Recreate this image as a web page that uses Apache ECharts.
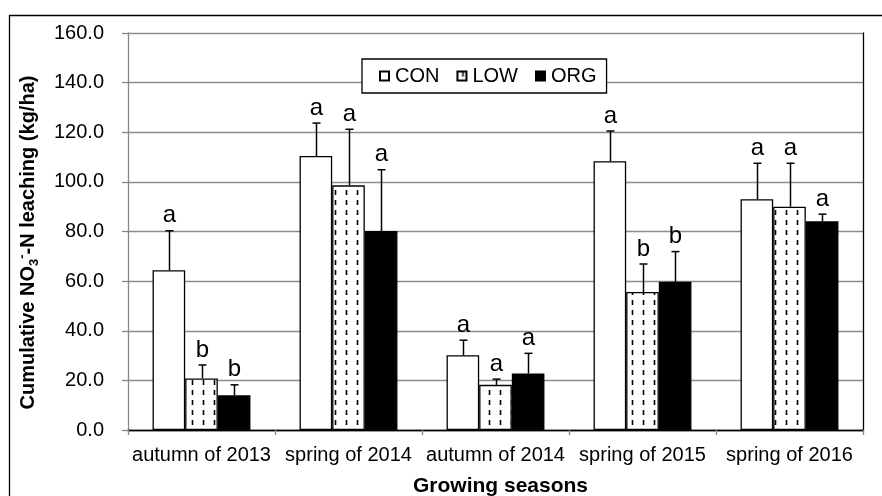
<!DOCTYPE html>
<html>
<head>
<meta charset="utf-8">
<script src="https://cdn.jsdelivr.net/npm/echarts@6/dist/echarts.min.js"></script>
<style>
  html, body { margin: 0; padding: 0; background: #fff; }
  #main { width: 882px; height: 496px; }
</style>
</head>
<body>
<div id="main"></div>
<script>
var seasons = ['autumn of 2013', 'spring of 2014', 'autumn of 2014', 'spring of 2015', 'spring of 2016'];
var yTicks = [0, 20, 40, 60, 80, 100, 120, 140, 160];

var conVal = [64.4, 110.4, 30.1, 108.3, 93.0];
var conErr = [15.9, 13.3, 6.1, 12.2, 14.5];
var conLetter = ['a', 'a', 'a', 'a', 'a'];

var lowVal = [20.8, 98.6, 18.2, 55.6, 90.0];
var lowErr = [5.4, 22.6, 2.3, 11.3, 17.5];
var lowLetter = ['b', 'a', 'a', 'b', 'a'];

var orgVal = [14.0, 80.2, 22.8, 59.7, 84.1];
var orgErr = [4.2, 24.7, 8.1, 12.2, 2.9];
var orgLetter = ['b', 'a', 'a', 'b', 'a'];

var FONT = 'Liberation Sans';
var CAT_GAP = 0.334; // share of each category left empty

// vertical dashed pattern for LOW
function dashPattern() {
	var c = document.createElement('canvas');
	c.width = 11;
	c.height = 10;
	var ctx = c.getContext('2d');
	ctx.fillStyle = '#fff';
	ctx.fillRect(0, 0, 11, 10);
	ctx.strokeStyle = '#000';
	ctx.lineWidth = 1.6;
	ctx.beginPath();
	ctx.moveTo(5.5, 0);
	ctx.lineTo(5.5, 5);
	ctx.stroke();
	return c;
}

function barSeries(name, vals, fill) {
	return {
		name: name,
		type: 'bar',
		barGap: '0%',
		barCategoryGap: (CAT_GAP * 100) + '%',
		itemStyle: { color: fill, borderColor: '#000', borderWidth: 1.3 },
		data: vals,
		z: 3
	};
}

// error bar (upper whisker only) plus the significance letter
function errSeries(pos, vals, errs, letters) {
	var data = [];
	for (var i = 0; i < vals.length; i++) {
		data.push([i, vals[i], vals[i] + errs[i]]);
	}
	return {
		type: 'custom',
		silent: true,
		z: 5,
		data: data,
		renderItem: function (params, api) {
			var lo = api.coord([api.value(0), api.value(1)]);
			var hi = api.coord([api.value(0), api.value(2)]);
			var band = api.size([1, 0])[0];
			var barW = band * (1 - CAT_GAP) / 3;
			var x = Math.round(lo[0] + pos * barW) + 0.5;
			var st = { stroke: '#000', lineWidth: 1.5 };
			return {
				type: 'group',
				children: [
					{ type: 'line', shape: { x1: x, y1: lo[1], x2: x, y2: hi[1] }, style: st },
					{ type: 'line', shape: { x1: x - 4, y1: hi[1], x2: x + 4, y2: hi[1] }, style: st },
					{
						type: 'text',
						style: {
							text: letters[params.dataIndex],
							x: x,
							y: hi[1] - 3,
							align: 'center',
							verticalAlign: 'bottom',
							fontSize: 24,
							fontFamily: FONT,
							fill: '#000'
						}
					}
				]
			};
		}
	};
}

var chart = echarts.init(document.getElementById('main'));

var option = {
	backgroundColor: '#fff',
	animation: false,
	textStyle: { fontFamily: FONT, color: '#000' },
	graphic: [{
		type: 'rect',
		silent: true,
		z: -1,
		shape: { x: 9.5, y: 15.5, width: 1000, height: 1000 },
		style: { fill: 'none', stroke: '#000', lineWidth: 1.3 }
	}],
	legend: {
		data: ['CON', 'LOW', 'ORG'],
		left: 362,
		top: 59,
		padding: [7, 10, 7, 17],
		backgroundColor: '#fff',
		borderColor: '#000',
		borderWidth: 1.3,
		borderRadius: 0,
		icon: 'rect',
		itemWidth: 9,
		itemHeight: 9,
		itemGap: 17,
		textStyle: { fontSize: 20, fontFamily: FONT, color: '#000', padding: [0, 0, 0, 1] }
	},
	grid: { left: 128, right: 19, top: 33, bottom: 66, containLabel: false, outerBoundsMode: 'none' },
	xAxis: [{
		type: 'category',
		data: seasons,
		name: 'Growing seasons',
		nameLocation: 'middle',
		nameGap: 46,
		nameTextStyle: { fontSize: 21, fontWeight: 'bold', fontFamily: FONT, color: '#000', padding: [0, 0, 0, 10] },
		axisLine: { lineStyle: { color: '#878787', width: 1.3 } },
		axisTick: { show: true, length: 5, alignWithLabel: false, lineStyle: { color: '#878787', width: 1.3 } },
		axisLabel: { fontSize: 20, fontFamily: FONT, color: '#000', margin: 15, interval: 0 },
		splitLine: { show: false }
	}, {
		type: 'category',
		data: seasons,
		position: 'top',
		axisLine: { lineStyle: { color: '#000', width: 1.3 } },
		axisTick: { show: false },
		axisLabel: { show: false },
		splitLine: { show: false }
	}],
	yAxis: [{
		type: 'value',
		min: yTicks[0],
		max: yTicks[yTicks.length - 1],
		interval: 20,
		name: '{t|Cumulative NO}{sub|3}{sup|-}{t|-N leaching (kg/ha)}',
		nameLocation: 'middle',
		nameGap: 87,
		nameRotate: 90,
		nameTextStyle: {
			padding: [0, 22, 0, 0],
			rich: {
				t: { fontSize: 20, fontWeight: 'bold', fontFamily: FONT, color: '#000', lineHeight: 25 },
				sub: { fontSize: 13, fontWeight: 'bold', fontFamily: FONT, color: '#000', lineHeight: 13, verticalAlign: 'bottom' },
				sup: { fontSize: 13, fontWeight: 'bold', fontFamily: FONT, color: '#000', lineHeight: 13, verticalAlign: 'top' }
			}
		},
		axisLine: { show: true, lineStyle: { color: '#878787', width: 1.3 } },
		axisTick: { show: true, length: 6, lineStyle: { color: '#878787', width: 1.3 } },
		axisLabel: {
			fontSize: 20,
			fontFamily: FONT,
			color: '#000',
			margin: 24,
			formatter: function (v) { return v.toFixed(1); }
		},
		splitLine: { show: true, lineStyle: { color: '#8c8c8c', width: 1.3 } }
	}, {
		type: 'value',
		min: yTicks[0],
		max: yTicks[yTicks.length - 1],
		interval: 20,
		position: 'right',
		axisLine: { show: true, lineStyle: { color: '#000', width: 1.3 } },
		axisTick: { show: false },
		axisLabel: { show: false },
		splitLine: { show: false }
	}],
	series: [
		barSeries('CON', conVal, '#fff'),
		barSeries('LOW', lowVal, { image: dashPattern(), repeat: 'repeat' }),
		barSeries('ORG', orgVal, '#000'),
		errSeries(-1, conVal, conErr, conLetter),
		errSeries(0, lowVal, lowErr, lowLetter),
		errSeries(1, orgVal, orgErr, orgLetter)
	]
};

chart.setOption(option);
</script>
</body>
</html>
